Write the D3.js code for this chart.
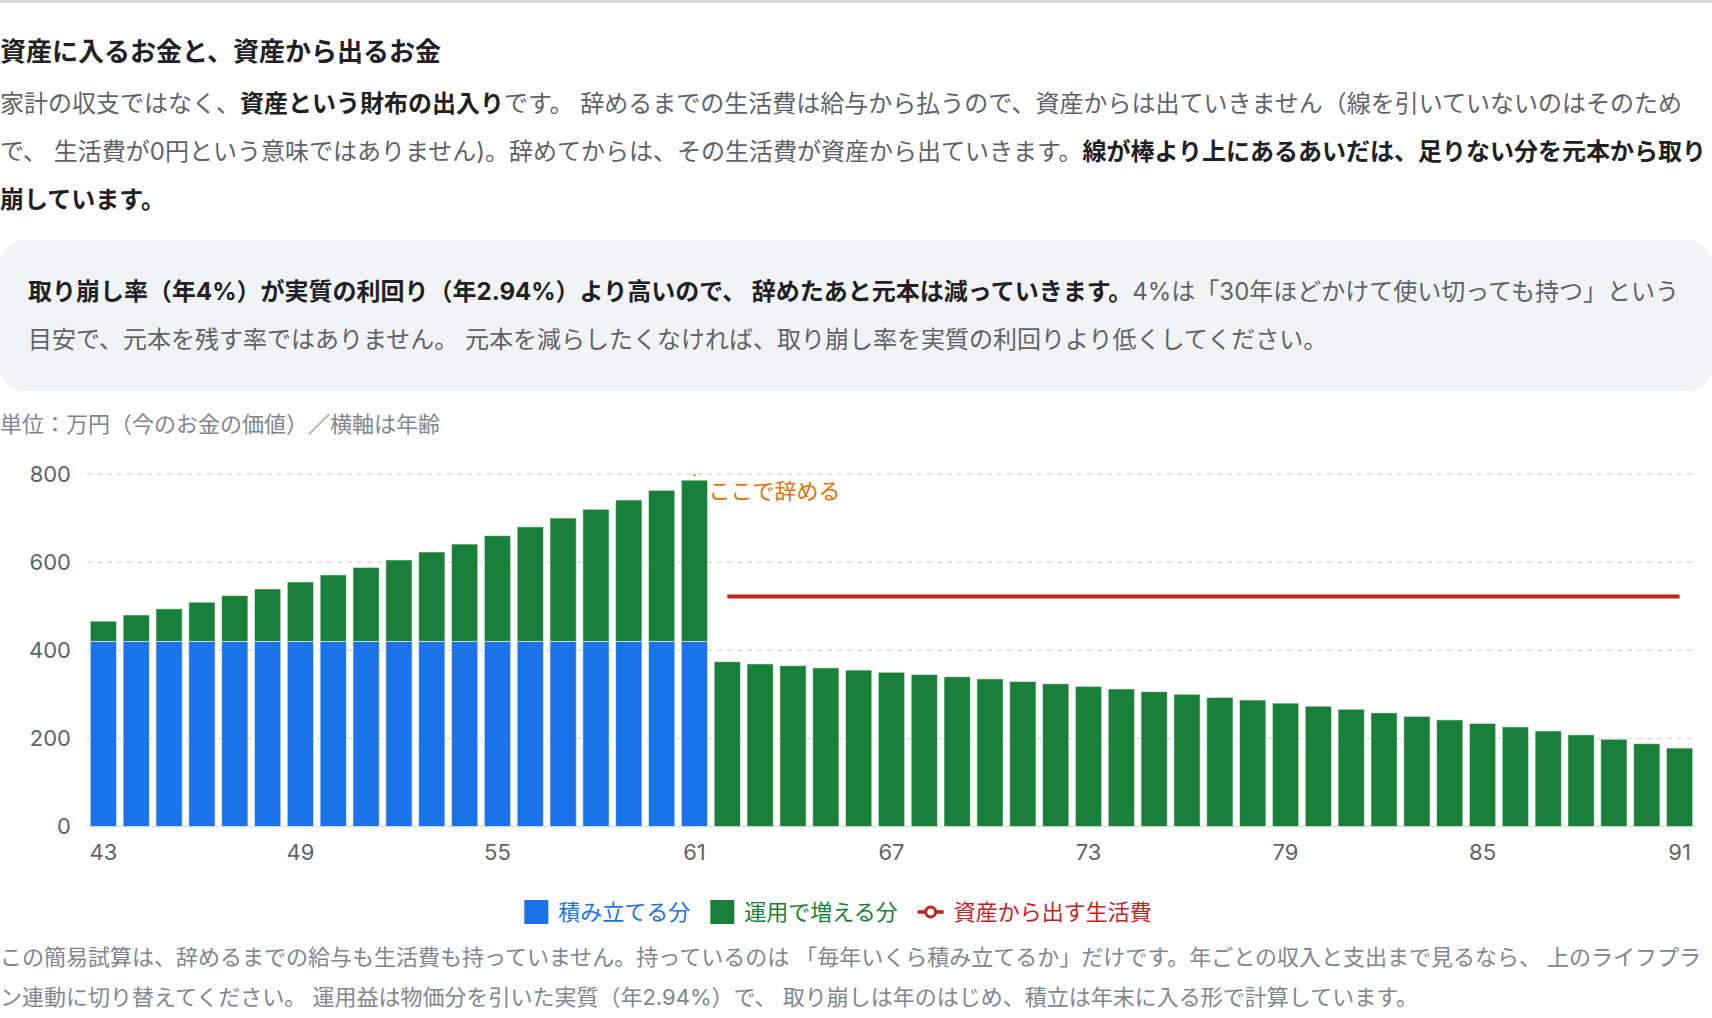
<!DOCTYPE html>
<meta charset="utf-8">
<style>
body {
  margin: 0;
  width: 1712px;
  height: 1018px;
  position: relative;
  overflow: hidden;
  background: #fff;
  font-family: "Inter", "Noto Sans CJK JP", sans-serif;
}
.topline { position: absolute; left: 0; top: 0; width: 1712px; height: 3px; background: #dadce0; }
.title {
  position: absolute; left: 0; top: 32px;
  font-size: 26px; line-height: 40px; font-weight: 700; color: #202124; white-space: nowrap;
}
.lead {
  position: absolute; left: 0; top: 80px;
  font-size: 24px; line-height: 48px; color: #5f6368; white-space: nowrap;
}
.lead b, .note b { color: #202124; font-weight: 700; }
.note {
  position: absolute; left: 0; top: 240px; width: 1712px; height: 151px;
  box-sizing: border-box; padding: 28px 0 0 28px;
  background: #f1f3f4; border-radius: 24px;
  font-size: 24px; line-height: 48px; color: #5f6368; white-space: nowrap;
}
.unit {
  position: absolute; left: 0; top: 408px;
  font-size: 22px; line-height: 32px; color: #80868b; white-space: nowrap;
}
.foot {
  position: absolute; left: 0; top: 937px;
  font-size: 22px; line-height: 40px; color: #80868b; white-space: nowrap;
}
svg.chart { position: absolute; left: 0; top: 0; }
.axis text { font-family: "Inter", "Noto Sans CJK JP", sans-serif; font-size: 22px; fill: #5f6368; }
.axis path, .axis line { display: none; }
.grid line { stroke: #dadce0; stroke-width: 1.5; stroke-dasharray: 5,5; }
.legend text { font-family: "Inter", "Noto Sans CJK JP", sans-serif; font-size: 22px; }
</style>
<body>
<div class="topline"></div>
<div class="title">資産に入るお金と、資産から出るお金</div>
<div class="lead">家計の収支ではなく、<b>資産という財布の出入り</b>です。 辞めるまでの生活費は給与から払うので、資産からは出ていきません（線を引いていないのはそのため<br>で、 生活費が0円という意味ではありません)。辞めてからは、その生活費が資産から出ていきます。<b>線が棒より上にあるあいだは、足りない分を元本から取り<br>崩しています。</b></div>
<div class="note"><b>取り崩し率（年4%）が実質の利回り（年2.94%）より高いので、 辞めたあと元本は減っていきます。</b>4%は「30年ほどかけて使い切っても持つ」という<br>目安で、元本を残す率ではありません。 元本を減らしたくなければ、取り崩し率を実質の利回りより低くしてください。</div>
<div class="unit">単位：万円（今のお金の価値）／横軸は年齢</div>
<div class="foot">この簡易試算は、辞めるまでの給与も生活費も持っていません。持っているのは 「毎年いくら積み立てるか」だけです。年ごとの収入と支出まで見るなら、 上のライフプラ<br>ン連動に切り替えてください。 運用益は物価分を引いた実質（年2.94%）で、 取り崩しは年のはじめ、積立は年末に入る形で計算しています。</div>
<svg class="chart"></svg>
<script src="https://d3js.org/d3.v7.min.js"></script>
<script>

// ages on the x axis
var ages = [43, 44, 45, 46, 47, 48, 49, 50, 51, 52, 53, 54, 55, 56, 57, 58, 59, 60, 61,
            62, 63, 64, 65, 66, 67, 68, 69, 70, 71, 72, 73, 74, 75, 76, 77, 78, 79, 80,
            81, 82, 83, 84, 85, 86, 87, 88, 89, 90, 91];
// 積み立てる分
var contrib = [420, 420, 420, 420, 420, 420, 420, 420, 420, 420, 420, 420, 420, 420, 420, 420, 420, 420, 420,
               0, 0, 0, 0, 0, 0, 0, 0, 0, 0, 0, 0, 0, 0, 0, 0, 0, 0, 0,
               0, 0, 0, 0, 0, 0, 0, 0, 0, 0, 0];
// 運用で増える分
var growth = [46, 60, 74, 89, 104, 119, 135, 151, 168, 185, 203, 221, 240, 260, 280, 300, 321, 343, 366,
              374, 369, 365, 360, 355, 350, 345, 340, 335, 329, 324, 318, 312, 306, 300, 293, 287, 280, 273,
              266, 258, 250, 242, 234, 226, 217, 208, 198, 188, 178];
// 資産から出す生活費
var living = [null, null, null, null, null, null, null, null, null, null, null, null, null, null, null, null, null, null, null,
              522, 522, 522, 522, 522, 522, 522, 522, 522, 522, 522, 522, 522, 522, 522, 522, 522, 522, 522,
              522, 522, 522, 522, 522, 522, 522, 522, 522, 522, 522];
var retireAge = 61;
var xTicks = [43, 49, 55, 61, 67, 73, 79, 85, 91];
var yTicks = [0, 200, 400, 600, 800];

var colors = {contrib: "#1a73e8", growth: "#188038", living: "#c5221f", retire: "#e8710a"};

var plotLeft = 87, plotRight = 1696, plotTop = 474, plotBottom = 826.5;

var rows = ages.map(function(a, i){
  return {age: a, contrib: contrib[i], growth: growth[i], living: living[i]};
});

var x = d3.scaleBand()
          .domain(ages)
          .range([plotLeft, plotRight])
          .paddingInner(0.2)
          .paddingOuter(0.1);
var y = d3.scaleLinear()
          .domain([0, 800])
          .range([plotBottom, plotTop]);

var svg = d3.select(".chart")
            .attr("width", 1712)
            .attr("height", 1018);

// grid
svg.append("g")
    .attr("class", "grid")
    .selectAll("line")
    .data(yTicks.filter(function(d){return d > 0;}))
    .enter()
    .append("line")
      .attr("x1", plotLeft)
      .attr("x2", plotRight)
      .attr("y1", function(d){return y(d);})
      .attr("y2", function(d){return y(d);});

svg.append("line")
    .attr("x1", plotLeft).attr("x2", plotRight)
    .attr("y1", y(0)).attr("y2", y(0))
    .attr("stroke", "#dadce0")
    .attr("stroke-width", 1.5);

// retirement marker
svg.append("line")
    .attr("x1", x(retireAge) + x.bandwidth()/2)
    .attr("x2", x(retireAge) + x.bandwidth()/2)
    .attr("y1", y(800))
    .attr("y2", y(0))
    .attr("stroke", colors.retire)
    .attr("stroke-width", 2)
    .attr("stroke-dasharray", "2,6");

// stacked bars
var stack = d3.stack().keys(["contrib", "growth"]);
var series = stack(rows);

svg.append("g")
    .selectAll("g")
    .data(series)
    .enter()
    .append("g")
      .attr("fill", function(d){return colors[d.key];})
    .selectAll("rect")
    .data(function(d){return d.filter(function(p){return p[1] > p[0];});})
    .enter()
    .append("rect")
      .attr("x", function(d){return x(d.data.age);})
      .attr("y", function(d){return y(d[1]);})
      .attr("width", x.bandwidth())
      .attr("height", function(d){return y(d[0]) - y(d[1]);})
      .attr("stroke", "#fff")
      .attr("stroke-opacity", 0.55)
      .attr("stroke-width", 1);

// living cost line
var line = d3.line()
             .defined(function(d){return d.living != null;})
             .x(function(d){return x(d.age) + x.bandwidth()/2;})
             .y(function(d){return y(d.living);});

svg.append("path")
    .datum(rows)
    .attr("fill", "none")
    .attr("stroke", colors.living)
    .attr("stroke-width", 4)
    .attr("d", line);

// retirement label
svg.append("text")
    .attr("x", x(retireAge) + x.bandwidth() + 1)
    .attr("y", y(800) + 17)
    .attr("dominant-baseline", "central")
    .attr("fill", colors.retire)
    .style("font-size", "22px")
    .style("font-family", "'Inter', 'Noto Sans CJK JP', sans-serif")
    .text("ここで辞める");

// axes
svg.append("g")
    .attr("class", "y axis")
    .attr("transform", "translate(" + plotLeft + ",0)")
    .call(d3.axisLeft(y).tickValues(yTicks).tickSize(0).tickPadding(16));

svg.append("g")
    .attr("class", "x axis")
    .attr("transform", "translate(0," + plotBottom + ")")
    .call(d3.axisBottom(x).tickValues(xTicks).tickSize(0).tickPadding(18));

svg.selectAll(".axis .domain").remove();

// legend
var legendItems = [
  {label: "積み立てる分", color: colors.contrib, type: "rect"},
  {label: "運用で増える分", color: colors.growth, type: "rect"},
  {label: "資産から出す生活費", color: colors.living, type: "line"}
];
var legend = svg.append("g").attr("class", "legend");
var cx = 0;
legendItems.forEach(function(item, i){
  var g = legend.append("g").attr("transform", "translate(" + cx + ",0)");
  if (item.type === "rect") {
    g.append("rect")
      .attr("x", 0).attr("y", -12)
      .attr("width", 24).attr("height", 24)
      .attr("fill", item.color);
  } else {
    g.append("line")
      .attr("x1", 0).attr("x2", 26)
      .attr("y1", 0).attr("y2", 0)
      .attr("stroke", item.color)
      .attr("stroke-width", 3.5);
    g.append("circle")
      .attr("cx", 13).attr("cy", 0).attr("r", 5)
      .attr("fill", "#fff")
      .attr("stroke", item.color)
      .attr("stroke-width", 3);
  }
  var mw = item.type === "rect" ? 24 : 26;
  var t = g.append("text")
      .attr("x", mw + 10)
      .attr("y", 0)
      .attr("dominant-baseline", "central")
      .attr("fill", item.color)
      .text(item.label);
  cx += mw + 10 + t.node().getComputedTextLength() + 20;
});
var legendWidth = cx - 20;
legend.attr("transform", "translate(" + (838 - legendWidth/2) + ",912)");

</script>
</body>
